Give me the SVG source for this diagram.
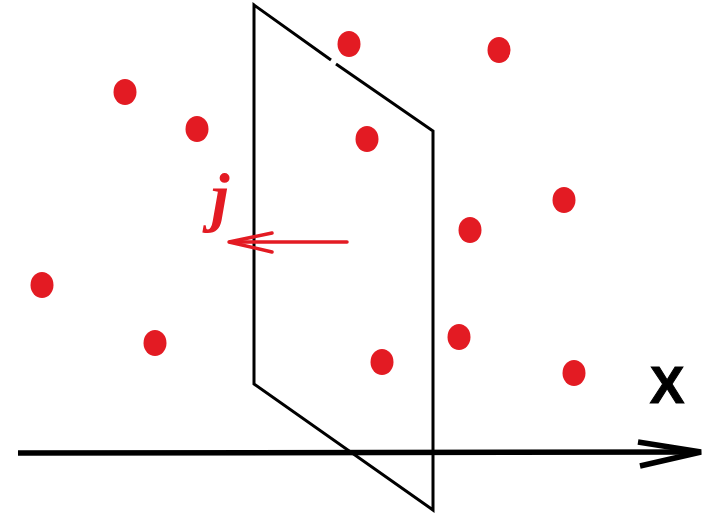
<svg xmlns="http://www.w3.org/2000/svg" width="713" height="518" viewBox="0 0 713 518">
<style>
.pt{fill:#e31b23}
.blk{stroke:#000;fill:none;stroke-linejoin:miter;stroke-linecap:butt}
.red{stroke:#e31b23;fill:none;stroke-width:3.5;stroke-linecap:round}
</style>
<rect width="713" height="518" fill="#fff"/>
<g id="points">
<ellipse class="pt" cx="125" cy="92" rx="11.5" ry="13"/>
<ellipse class="pt" cx="197" cy="129" rx="11.5" ry="13"/>
<ellipse class="pt" cx="349" cy="44" rx="11.5" ry="13"/>
<ellipse class="pt" cx="499" cy="50" rx="11.5" ry="13"/>
<ellipse class="pt" cx="367" cy="139" rx="11.5" ry="13"/>
<ellipse class="pt" cx="564" cy="200" rx="11.5" ry="13"/>
<ellipse class="pt" cx="470" cy="230" rx="11.5" ry="13"/>
<ellipse class="pt" cx="42" cy="285" rx="11.5" ry="13"/>
<ellipse class="pt" cx="155" cy="343" rx="11.5" ry="13"/>
<ellipse class="pt" cx="459" cy="337" rx="11.5" ry="13"/>
<ellipse class="pt" cx="382" cy="362" rx="11.5" ry="13"/>
<ellipse class="pt" cx="574" cy="373" rx="11.5" ry="13"/>
</g>
<g id="axis">
<line class="blk" x1="18" y1="453" x2="700" y2="452" stroke-width="5.5"/>
<polyline class="blk" points="638,442 701,452 640,466" stroke-width="5.5" stroke-linecap="round"/>
<text x="667" y="403" font-family="Liberation Sans, Arial, sans-serif" font-weight="bold" font-size="52" text-anchor="middle" fill="#000" stroke="#000" stroke-width="1">X</text>
</g>
<g id="plane">
<polyline class="blk" stroke-width="3" points="331,60 254,5 254,384 433,510 433,131 336,64"/>
</g>
<g id="flux">
<line class="red" x1="347" y1="242" x2="229" y2="242"/>
<polyline class="red" points="272,233 229,242 272,252"/>
<text x="211" y="219" font-family="Liberation Serif, Times New Roman, serif" font-style="italic" font-weight="bold" font-size="66" fill="#e31b23">j</text>
</g>
</svg>
